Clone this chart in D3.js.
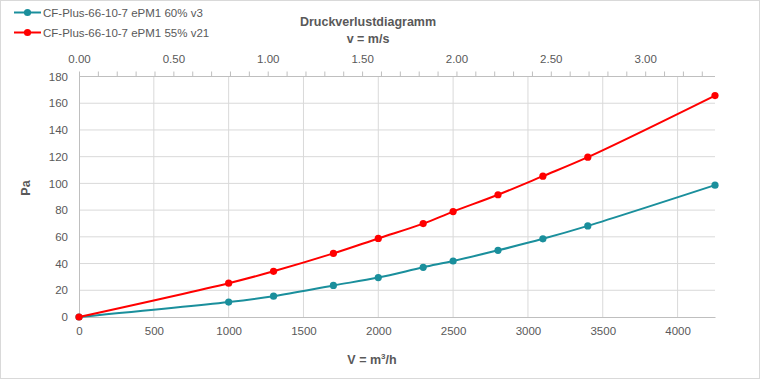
<!DOCTYPE html>
<html>
<head>
<meta charset="utf-8">
<script src="https://cdn.jsdelivr.net/npm/d3@7"></script>
<style>
  body { margin: 0; background: #fff; }
  text { font-family: "Liberation Sans", Arial, sans-serif; fill: #595959; }
  .tick text { font-size: 11.5px; }
  .title { font-size: 12.5px; font-weight: bold; }
</style>
</head>
<body>
<div id="chart"></div>
<script>
// Data
var flow = [0, 1000, 1300, 1700, 2000, 2300, 2500, 2800, 3100, 3400, 4250];
var pressure60 = [0, 11.2, 15.6, 23.6, 29.5, 37.2, 41.9, 49.9, 58.5, 68.2, 98.7];
var pressure55 = [0, 25.3, 34.2, 47.6, 58.8, 69.9, 78.9, 91.5, 105.4, 119.6, 165.7];
var seriesNames = ["CF-Plus-66-10-7 ePM1 60% v3", "CF-Plus-66-10-7 ePM1 55% v21"];
var seriesColors = ["#1a8f9c", "#ff0000"];
var xTicks = [0, 500, 1000, 1500, 2000, 2500, 3000, 3500, 4000];
var yTicks = [0, 20, 40, 60, 80, 100, 120, 140, 160, 180];
var vTicks = d3.range(0, 34).map(d => d / 10);
var vMax = 3.37;

var svgWidth = 760;
var svgHeight = 379;

var svg = d3.select("#chart")
    .append("svg")
    .attr("width", svgWidth)
    .attr("height", svgHeight);

// outer chart border
svg.append("rect")
    .attr("x", 0.5).attr("y", 0.5)
    .attr("width", svgWidth - 1).attr("height", svgHeight - 1)
    .attr("fill", "#fff")
    .attr("stroke", "#d9d9d9");

var plot = { left: 79, right: 715, top: 76.5, bottom: 317 };

var x = d3.scaleLinear().domain([0, 4250]).range([plot.left, plot.right]);
var y = d3.scaleLinear().domain([0, 180]).range([plot.bottom, plot.top]);
var v = d3.scaleLinear().domain([0, vMax]).range([plot.left, plot.right]);

// gridlines
svg.append("g").selectAll("line")
    .data(yTicks.slice(1))
    .enter().append("line")
    .attr("x1", plot.left).attr("x2", plot.right)
    .attr("y1", d => y(d)).attr("y2", d => y(d))
    .attr("stroke", "#d9d9d9");

svg.append("g").selectAll("line")
    .data(xTicks.slice(1))
    .enter().append("line")
    .attr("x1", d => x(d)).attr("x2", d => x(d))
    .attr("y1", plot.top).attr("y2", plot.bottom)
    .attr("stroke", "#d9d9d9");

// bottom axis
var bottomAxis = svg.append("g")
    .attr("transform", `translate(0, ${plot.bottom})`)
    .call(d3.axisBottom(x).tickValues(xTicks).tickFormat(d3.format("d")).tickSize(0).tickPadding(10));
bottomAxis.select(".domain").attr("stroke", "#bfbfbf");

// left axis
var leftAxis = svg.append("g")
    .attr("transform", `translate(${plot.left}, 0)`)
    .call(d3.axisLeft(y).tickValues(yTicks).tickFormat(d3.format("d")).tickSize(0).tickPadding(11));
leftAxis.select(".domain").attr("stroke", "#bfbfbf");

// top axis (velocity)
var topAxis = svg.append("g")
    .attr("transform", `translate(0, ${plot.top})`)
    .call(d3.axisTop(v)
        .tickValues(vTicks)
        .tickSize(5)
        .tickPadding(9)
        .tickFormat(d => (Math.round(d * 10) % 5 === 0) ? d3.format(".2f")(d) : ""));
topAxis.select(".domain").attr("stroke", "#bfbfbf").attr("d", `M${plot.left},0H${plot.right}`);
topAxis.selectAll(".tick line").attr("stroke", "#bfbfbf");

svg.selectAll(".tick text").attr("fill", "#595959").style("font-family", "Liberation Sans, Arial, sans-serif");

// lines and markers
var allSeries = [pressure60, pressure55];
var line = d3.line()
    .x((d, i) => x(flow[i]))
    .y(d => y(d))
    .curve(d3.curveCatmullRom.alpha(0.5));

allSeries.forEach(function(values, s) {
    svg.append("path")
        .datum(values)
        .attr("fill", "none")
        .attr("stroke", seriesColors[s])
        .attr("stroke-width", 2)
        .attr("d", line);

    svg.append("g").selectAll("circle")
        .data(values)
        .enter().append("circle")
        .attr("cx", (d, i) => x(flow[i]))
        .attr("cy", d => y(d))
        .attr("r", 3.6)
        .attr("fill", seriesColors[s]);
});

// titles
svg.append("text")
    .attr("class", "title")
    .attr("x", 368).attr("y", 26)
    .attr("text-anchor", "middle")
    .text("Druckverlustdiagramm");

svg.append("text")
    .attr("class", "title")
    .attr("x", 368).attr("y", 43)
    .attr("text-anchor", "middle")
    .text("v = m/s");

svg.append("text")
    .attr("class", "title")
    .attr("x", 372).attr("y", 364)
    .attr("text-anchor", "middle")
    .html("V = m<tspan dy='-5' font-size='8px'>3</tspan><tspan dy='5'>/h</tspan>");

svg.append("text")
    .attr("class", "title")
    .attr("transform", "rotate(-90)")
    .attr("x", -188).attr("y", 30)
    .attr("text-anchor", "middle")
    .text("Pa");

// legend
var legend = svg.append("g").selectAll("g")
    .data(seriesNames)
    .enter().append("g")
    .attr("transform", (d, i) => `translate(14, ${12.5 + i * 20})`);

legend.append("line")
    .attr("x1", 0).attr("x2", 27)
    .attr("stroke", (d, i) => seriesColors[i])
    .attr("stroke-width", 2);

legend.append("circle")
    .attr("cx", 13.5).attr("r", 3.6)
    .attr("fill", (d, i) => seriesColors[i]);

legend.append("text")
    .attr("x", 29).attr("dy", "0.35em")
    .style("font-size", "11.5px")
    .text(d => d);
</script>
</body>
</html>
